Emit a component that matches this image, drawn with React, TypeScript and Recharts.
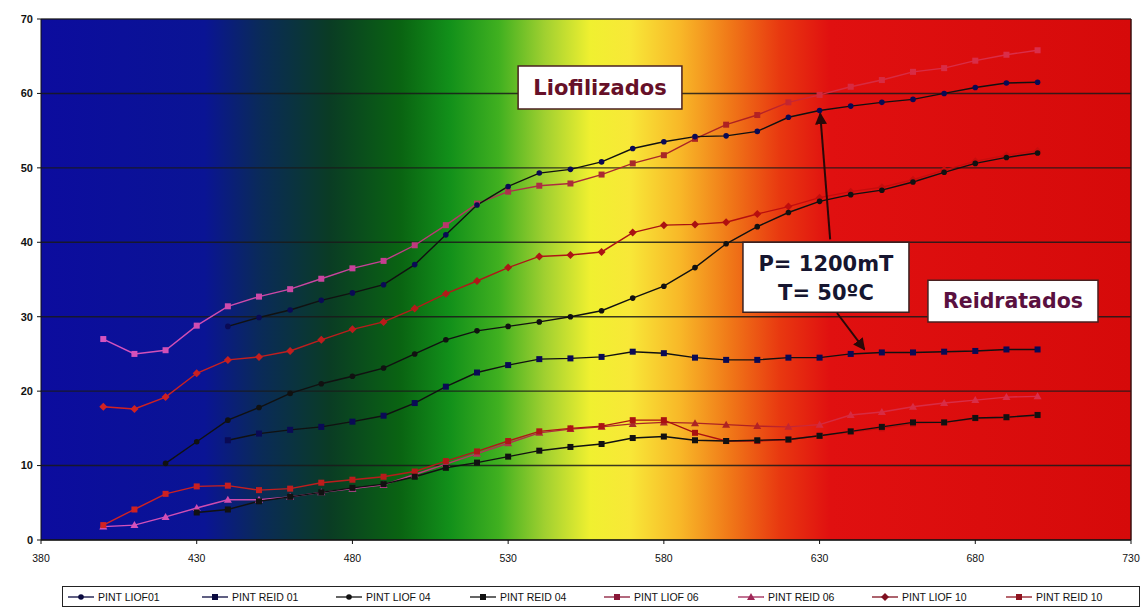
import React from "react";
import {
  CartesianGrid,
  Label,
  Legend,
  Line,
  LineChart,
  ReferenceArea,
  ReferenceLine,
  XAxis,
  YAxis,
} from "recharts";

const wavelengths = [
  400, 410, 420, 430, 440, 450, 460, 470, 480, 490, 500, 510, 520, 530, 540,
  550, 560, 570, 580, 590, 600, 610, 620, 630, 640, 650, 660, 670, 680, 690, 700,
];

const liof01 = [
  null, null, null, null, 28.7, 29.9, 30.9, 32.2, 33.2, 34.3, 37.0, 41.0, 45.0, 47.5, 49.3,
  49.8, 50.8, 52.6, 53.5, 54.2, 54.3, 54.9, 56.8, 57.7, 58.3, 58.8, 59.2, 60.0, 60.8, 61.4, 61.5,
];
const reid01 = [
  null, null, null, null, 13.4, 14.3, 14.8, 15.2, 15.9, 16.7, 18.4, 20.6, 22.5, 23.5, 24.3,
  24.4, 24.6, 25.3, 25.1, 24.5, 24.2, 24.2, 24.5, 24.5, 25.0, 25.2, 25.2, 25.3, 25.4, 25.6, 25.6,
];
const liof04 = [
  null, null, 10.3, 13.2, 16.1, 17.8, 19.7, 21.0, 22.0, 23.1, 25.0, 26.9, 28.1, 28.7, 29.3,
  30.0, 30.8, 32.5, 34.1, 36.6, 39.8, 42.1, 44.0, 45.5, 46.4, 47.0, 48.1, 49.4, 50.6, 51.4, 52.0,
];
const reid04 = [
  null, null, null, 3.7, 4.1, 5.2, 5.8, 6.4, 7.0, 7.5, 8.5, 9.7, 10.4, 11.2, 12.0,
  12.5, 12.9, 13.7, 13.9, 13.4, 13.3, 13.4, 13.5, 14.0, 14.6, 15.2, 15.8, 15.8, 16.4, 16.5, 16.8,
];
const liof06 = [
  27.0, 25.0, 25.5, 28.8, 31.4, 32.7, 33.7, 35.1, 36.5, 37.5, 39.6, 42.3, 45.2, 46.8, 47.6,
  47.9, 49.1, 50.6, 51.7, 53.9, 55.8, 57.1, 58.8, 59.8, 60.9, 61.8, 62.9, 63.4, 64.4, 65.2, 65.8,
];
const reid06 = [
  1.8, 2.0, 3.1, 4.3, 5.4, 5.4, 5.8, 6.4, 6.9, 7.4, 8.8, 10.2, 11.6, 13.0, 14.4,
  14.9, 15.2, 15.6, 15.8, 15.7, 15.5, 15.3, 15.2, 15.5, 16.8, 17.2, 17.9, 18.4, 18.8, 19.2, 19.3,
];
const liof10 = [
  17.9, 17.6, 19.2, 22.4, 24.2, 24.6, 25.4, 26.9, 28.3, 29.3, 31.1, 33.1, 34.8, 36.6, 38.1,
  38.3, 38.7, 41.3, 42.3, 42.4, 42.7, 43.8, 44.8, 46.0, 46.8, 47.4, 48.4, 49.7, 50.9, 51.7, 52.3,
];
const reid10 = [
  2.0, 4.1, 6.2, 7.2, 7.3, 6.7, 6.9, 7.7, 8.1, 8.5, 9.2, 10.6, 11.9, 13.3, 14.6,
  15.0, 15.3, 16.1, 16.1, 14.4, 13.3, 13.3, 13.5, 14.0, 14.5, 15.0, 15.6, 15.8, 16.3, 16.4, 16.7,
];

const xTicks = [380, 430, 480, 530, 580, 630, 680, 730];
const yTicks = [0, 10, 20, 30, 40, 50, 60, 70];

type Shape = "circle" | "square" | "triangle" | "diamond";

type Series = {
  key: string;
  name: string;
  values: (number | null)[];
  color: string;
  marker: string;
  legend: string;
  shape: Shape;
};

// legend order
const series: Series[] = [
  { key: "liof01", name: "PINT LIOF01", values: liof01, color: "#111111", marker: "#0a0a55", legend: "#0a0a40", shape: "circle" },
  { key: "reid01", name: "PINT REID 01", values: reid01, color: "#111111", marker: "#0a0a55", legend: "#0a0a40", shape: "square" },
  { key: "liof04", name: "PINT LIOF 04", values: liof04, color: "#111111", marker: "#111111", legend: "#111111", shape: "circle" },
  { key: "reid04", name: "PINT REID 04", values: reid04, color: "#111111", marker: "#111111", legend: "#111111", shape: "square" },
  { key: "liof06", name: "PINT LIOF 06", values: liof06, color: "url(#pinkTone)", marker: "url(#pinkTone)", legend: "#8a1838", shape: "square" },
  { key: "reid06", name: "PINT REID 06", values: reid06, color: "url(#pinkTone)", marker: "url(#pinkTone)", legend: "#a02858", shape: "triangle" },
  { key: "liof10", name: "PINT LIOF 10", values: liof10, color: "url(#redTone)", marker: "url(#redTone)", legend: "#801020", shape: "diamond" },
  { key: "reid10", name: "PINT REID 10", values: reid10, color: "url(#redTone)", marker: "url(#redTone)", legend: "#901420", shape: "square" },
];

// draw the coloured series first so the black ones stay on top
const drawOrder = [...series.slice(4), ...series.slice(0, 4)];

const data = wavelengths.map((w, i) => {
  const row: Record<string, number | null> = { w };
  series.forEach((s) => (row[s.key] = s.values[i]));
  return row;
});

function markerShape(shape: Shape, cx: number, cy: number, fill: string, key?: string) {
  if (shape === "circle") return <circle key={key} cx={cx} cy={cy} r={2.8} fill={fill} />;
  if (shape === "square") return <rect key={key} x={cx - 3} y={cy - 3} width={6} height={6} fill={fill} />;
  if (shape === "triangle")
    return <polygon key={key} points={`${cx},${cy - 4} ${cx + 4},${cy + 3} ${cx - 4},${cy + 3}`} fill={fill} />;
  return <polygon key={key} points={`${cx},${cy - 4} ${cx + 4},${cy} ${cx},${cy + 4} ${cx - 4},${cy}`} fill={fill} />;
}

function makeDot(shape: Shape, fill: string, name: string) {
  return (props: any) => {
    const { cx, cy, index, value } = props;
    const k = `${name}-${index}`;
    if (cx == null || cy == null || value == null) return <g key={k} />;
    return markerShape(shape, cx, cy, fill, k);
  };
}

function LegendBox() {
  return (
    <div
      style={{
        display: "flex",
        border: "1px solid #222",
        height: 19,
        alignItems: "center",
        fontFamily: "'Liberation Sans', Arial, sans-serif",
        fontSize: 10.5,
        color: "#111",
        background: "#fff",
        paddingLeft: 4,
      }}
    >
      {series.map((s) => (
        <div key={s.key} style={{ display: "flex", alignItems: "center", width: 134, whiteSpace: "nowrap" }}>
          <svg width={28} height={10} style={{ marginRight: 3 }}>
            <line x1={1} y1={5} x2={27} y2={5} stroke={s.legend} strokeWidth={1.3} />
            {markerShape(s.shape, 14, 5, s.legend)}
          </svg>
          {s.name}
        </div>
      ))}
    </div>
  );
}

function PTLabel(props: any) {
  const { x, y, width } = props.viewBox;
  const cx = x + width / 2;
  return (
    <g fontFamily="'DejaVu Sans', Verdana, sans-serif" fontWeight="bold" fontSize={21} fill="#161630" textAnchor="middle">
      <text x={cx} y={y + 29}>P= 1200mT</text>
      <text x={cx} y={y + 58}>T= 50ºC</text>
    </g>
  );
}

export default function App() {
  return (
    <div style={{ position: "fixed", left: 0, top: 0, background: "#fff" }}>
      <LineChart width={1146} height={611} data={data} margin={{ top: 19, right: 15, left: 0, bottom: 0 }}>
        <defs>
          <linearGradient id="spectrum" x1="0" y1="0" x2="1" y2="0">
            <stop offset="0" stopColor="#0c0c9e" />
            <stop offset="0.15" stopColor="#0a1494" />
            <stop offset="0.2" stopColor="#0a2a5a" />
            <stop offset="0.265" stopColor="#0a3c24" />
            <stop offset="0.33" stopColor="#0a6412" />
            <stop offset="0.375" stopColor="#12901a" />
            <stop offset="0.42" stopColor="#40b020" />
            <stop offset="0.462" stopColor="#a0d030" />
            <stop offset="0.504" stopColor="#f0f030" />
            <stop offset="0.54" stopColor="#f8e838" />
            <stop offset="0.586" stopColor="#f8b828" />
            <stop offset="0.632" stopColor="#f07818" />
            <stop offset="0.678" stopColor="#e83810" />
            <stop offset="0.724" stopColor="#e01010" />
            <stop offset="1" stopColor="#d60a0a" />
          </linearGradient>
          <linearGradient id="pinkTone" gradientUnits="userSpaceOnUse" x1="41" y1="0" x2="1131" y2="0">
            <stop offset="0" stopColor="#d858c8" />
            <stop offset="0.3" stopColor="#c84098" />
            <stop offset="0.42" stopColor="#b03050" />
            <stop offset="0.55" stopColor="#a82828" />
            <stop offset="0.65" stopColor="#b02020" />
            <stop offset="0.72" stopColor="#d62a40" />
            <stop offset="1" stopColor="#dc3050" />
          </linearGradient>
          <linearGradient id="redTone" gradientUnits="userSpaceOnUse" x1="41" y1="0" x2="1131" y2="0">
            <stop offset="0" stopColor="#d82424" />
            <stop offset="0.4" stopColor="#b01818" />
            <stop offset="0.6" stopColor="#a81010" />
            <stop offset="0.7" stopColor="#c40c0c" />
            <stop offset="1" stopColor="#cc0c0c" />
          </linearGradient>
          <marker id="arrowHead" viewBox="0 0 10 10" refX="9" refY="5" markerWidth="6" markerHeight="6" orient="auto-start-reverse">
            <path d="M0,0 L10,5 L0,10 z" fill="#2a0808" />
          </marker>
        </defs>
        <CartesianGrid
          vertical={false}
          fill="url(#spectrum)"
          fillOpacity={1}
          stroke="#1a1a1a"
          strokeOpacity={0.85}
          strokeWidth={1.4}
        />
        <XAxis
          dataKey="w"
          type="number"
          domain={[380, 730]}
          ticks={xTicks}
          height={50}
          tickSize={4}
          tickMargin={11}
          stroke="#111"
          tick={{ fill: "#111", fontSize: 10.5, fontFamily: "'Liberation Sans', Arial, sans-serif" }}
        />
        <YAxis
          type="number"
          domain={[0, 70]}
          ticks={yTicks}
          width={41}
          tickSize={4}
          tickMargin={4}
          stroke="#111"
          tick={{ fill: "#111", fontSize: 11, fontWeight: "bold", fontFamily: "'Liberation Sans', Arial, sans-serif" }}
        />
        <ReferenceLine x={730} stroke="#3a1010" strokeWidth={1.5} />
        {drawOrder.map((s) => (
          <Line
            key={s.key}
            dataKey={s.key}
            name={s.name}
            type="linear"
            stroke={s.color}
            strokeWidth={1.4}
            dot={makeDot(s.shape, s.marker, s.key)}
            activeDot={false}
            isAnimationActive={false}
          />
        ))}
        <ReferenceLine
          segment={[{ x: 633.4, y: 40.4 }, { x: 630.2, y: 57.3 }]}
          stroke="#2a0808"
          strokeWidth={2}
          markerEnd="url(#arrowHead)"
        />
        <ReferenceLine
          segment={[{ x: 635.6, y: 30.5 }, { x: 644.4, y: 25.6 }]}
          stroke="#2a0808"
          strokeWidth={2}
          markerEnd="url(#arrowHead)"
        />
        <ReferenceArea x1={533.2} x2={585.8} y1={57.9} y2={63.7} fill="#ffffff" fillOpacity={1} stroke="#4a2020" strokeWidth={1.5}>
          <Label
            position="center"
            value="Liofilizados"
            fill="#661028"
            fontSize={21}
            fontWeight="bold"
            fontFamily="'DejaVu Sans', Verdana, sans-serif"
          />
        </ReferenceArea>
        <ReferenceArea x1={605.4} x2={658.7} y1={30.6} y2={40.0} fill="#ffffff" fillOpacity={1} stroke="#3a2020" strokeWidth={1.5}>
          <Label content={PTLabel} />
        </ReferenceArea>
        <ReferenceArea x1={664.8} x2={719.4} y1={29.3} y2={34.9} fill="#ffffff" fillOpacity={1} stroke="#4a2020" strokeWidth={1.5}>
          <Label
            position="center"
            value="Reidratados"
            fill="#5a1040"
            fontSize={20.5}
            fontWeight="bold"
            fontFamily="'DejaVu Sans', Verdana, sans-serif"
          />
        </ReferenceArea>
        <Legend
          content={() => <LegendBox />}
          wrapperStyle={{ position: "absolute", left: 62, top: 586, width: 1078, height: 21 }}
        />
      </LineChart>
    </div>
  );
}
